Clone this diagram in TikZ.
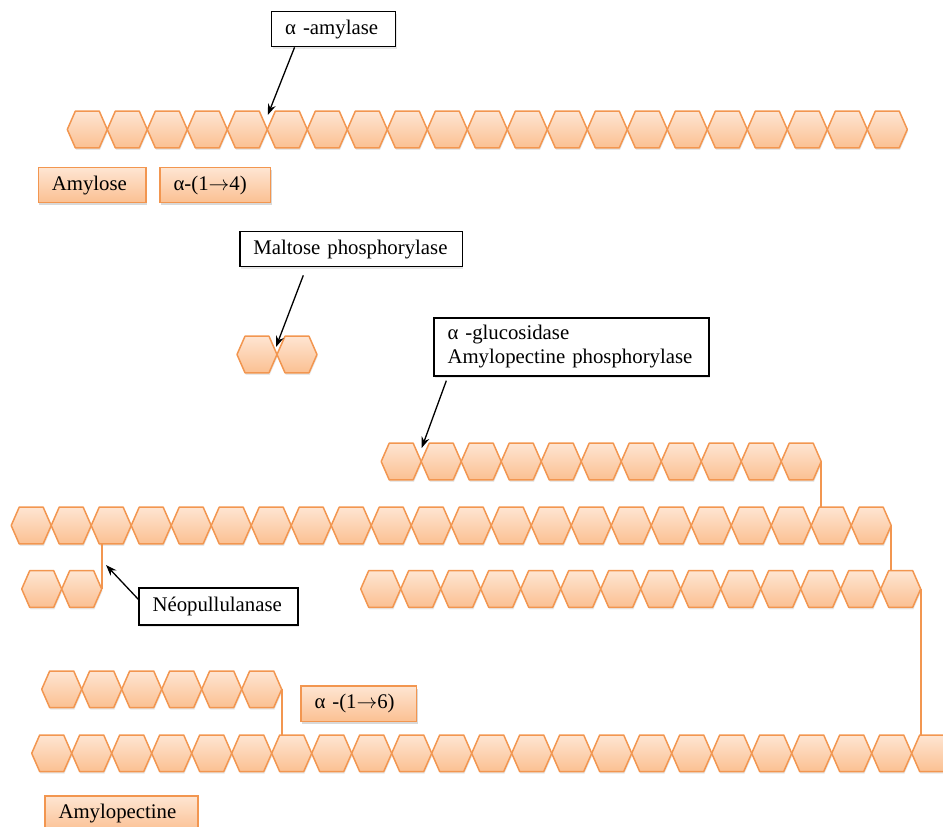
\documentclass[tikz,border=0pt]{standalone}
\usepackage{fontspec}
\setmainfont{Liberation Serif}
\usetikzlibrary{shadows,calc,arrows.meta}

\definecolor{hexline}{RGB}{242,150,80}
\definecolor{hextop}{RGB}{254,229,210}
\definecolor{hexbot}{RGB}{251,192,146}

\newcommand\diagfont{\fontsize{20.8}{24}\selectfont}
\newcommand\bondarrow{\ensuremath{\rightarrow}}

\tikzset{
  softshadow/.style={drop shadow={opacity=0.18, shadow xshift=0.8pt, shadow yshift=-2pt}},
  hexfill/.style={draw=hexline, line width=1.5pt, top color=hextop, bottom color=hexbot,
    line join=round, softshadow},
  % one glucose unit, with its six corners named
  hexcell/.pic={
    \path[hexfill] (-20,0) -- (-12,-18.3) -- (12,-18.3) -- (20,0) -- (12,18.3) -- (-12,18.3) -- cycle;
    \coordinate (-w) at (-20,0);
    \coordinate (-e) at (20,0);
    \coordinate (-nw) at (-12,-18.3);
    \coordinate (-ne) at (12,-18.3);
    \coordinate (-sw) at (-12,18.3);
    \coordinate (-se) at (12,18.3);
  },
  branchline/.style={draw=hexline, line width=1.8pt},
  enzbox/.style={draw=black, line width=1.3pt, fill=white, font=\diagfont,
    inner xsep=13.5pt, inner ysep=0pt, align=left, softshadow},
  tagbox/.style={draw=hexline, line width=1.5pt, top color=hextop, bottom color=hexbot,
    font=\diagfont, inner xsep=13.5pt, inner ysep=0pt, align=left,
    drop shadow={opacity=0.3, shadow xshift=0.8pt, shadow yshift=-2.5pt}},
  enzarrow/.style={draw=black, line width=1.3pt, -{Stealth[length=11pt,width=8pt]}},
}

\begin{document}
\begin{tikzpicture}[x=1pt, y=-1pt]
  \useasboundingbox (0,0) rectangle (943,827);
  \clip (0,0) rectangle (943,827);

  % amylose chain
  \foreach \i in {0,...,20} \pic (r1-\i) at ({87.3+40*\i},129.5) {hexcell};
  % maltose
  \foreach \i in {0,1} \pic (m-\i) at ({257+40*\i},354.5) {hexcell};
  % amylopectine branches
  \foreach \i in {0,...,10} \pic (rA-\i) at ({401.2+40*\i},461.5) {hexcell};
  \foreach \i in {0,...,21} \pic (rB-\i) at ({31.2+40*\i},525.5) {hexcell};
  \foreach \i in {0,...,13} \pic (rC-\i) at ({380.7+40*\i},589) {hexcell};
  \foreach \i in {0,1} \pic (rD-\i) at ({41.7+40*\i},589) {hexcell};
  \foreach \i in {0,...,5} \pic (rF-\i) at ({61.7+40*\i},689.3) {hexcell};
  \foreach \i in {0,...,22} \pic (rE-\i) at ({51.7+40*\i},753.3) {hexcell};

  % alpha-(1->6) branch points
  \draw[branchline] (rA-10-e) -- (rA-10-e |- rB-20-nw);
  \draw[branchline] (rB-21-e) -- (rB-21-e |- rC-13-nw);
  \draw[branchline] (rC-13-e) -- (rC-13-e |- rE-22-nw);
  \draw[branchline] (rD-1-e) -- (rD-1-e |- rB-2-sw);
  \draw[branchline] (rF-5-e) -- (rF-5-e |- rE-6-nw);

  % enzyme labels
  \node[enzbox, text width=97pt, minimum height=35pt] (amy) at (333.7,29.2) {α~-amylase};
  \node[enzbox, text width=195.7pt, minimum height=35pt] (malt) at (351.3,249.2) {Maltose~phosphorylase};
  \node[enzbox, text width=248pt, minimum height=58pt] (gluc) at (571.5,347)
    {α~-glucosidase\\Amylopectine~phosphorylase};
  \node[enzbox, text width=132pt, minimum height=37pt] (neo) at (218.5,606.5) {Néopullulanase};

  % structure labels
  \node[tagbox, text width=80.7pt, minimum height=35pt] (amylose) at (92.2,185.2) {Amylose};
  \node[tagbox, text width=83.7pt, minimum height=35pt] (a14) at (215.35,185.2) {α-(1\bondarrow4)};
  \node[tagbox, text width=88.7pt, minimum height=35.7pt] (a16) at (358.85,703.85) {α~-(1\bondarrow6)};
  \node[tagbox, text width=126pt, minimum height=36pt] (amp) at (121.5,814) {Amylopectine};

  % cleavage sites
  \coordinate (cutA) at ($(r1-4-e)+(0.5,-14.5)$);
  \coordinate (cutM) at ($(m-0-e)+(-1,-7.5)$);
  \coordinate (cutG) at ($(rA-0-e)+(0.5,-13.5)$);
  \coordinate (cutN) at ($(rD-1-e)+(4.3,-24)$);

  \draw[enzarrow] ($(amy.south west)+(23.5,0)$) -- (cutA);
  \draw[enzarrow] ($(malt.south west)+(64,8)$) -- (cutM);
  \draw[enzarrow] ($(gluc.south west)+(13,4)$) -- (cutG);
  \draw[enzarrow] ($(neo.north west)+(0,12)$) -- (cutN);
\end{tikzpicture}
\end{document}
